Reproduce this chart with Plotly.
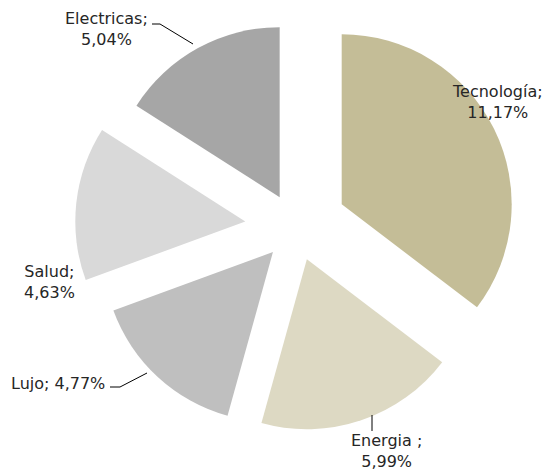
import plotly.graph_objects as go

labels = ["Tecnología", "Energia ", "Lujo", "Salud", "Electricas"]
values = [11.17, 5.99, 4.77, 4.63, 5.04]
colors = ["#C4BD97", "#DDD9C3", "#BFBFBF", "#D9D9D9", "#A6A6A6"]
pulls = [0.3, 0.2, 0.2, 0.3, 0.2]

W, H = 552, 473
cx, cy, half = 296, 227, 221

fig = go.Figure(go.Pie(
    labels=labels, values=values, sort=False, direction="clockwise", rotation=0,
    marker=dict(colors=colors, line=dict(width=0)), pull=pulls,
    textinfo="none", hoverinfo="label+value", showlegend=False,
    domain=dict(x=[max(0, (cx - half) / W), min(1, (cx + half) / W)],
                y=[max(0, (H - cy - half) / H), min(1, (H - cy + half) / H)]),
))

def fmt(v):
    return f"{v:.2f}".replace(".", ",") + "%"

font = dict(family="DejaVu Sans", size=16, color="#262626")
# label placements (paper px): (label index, x, y, text)
placements = [
    (0, 497, 102, f"{labels[0]};<br>{fmt(values[0])}"),
    (1, 386, 451, f"{labels[1]};<br>{fmt(values[1])}"),
    (2, 58, 383, f"{labels[2]}; {fmt(values[2])}"),
    (3, 49, 282, f"{labels[3]};<br>{fmt(values[3])}"),
    (4, 106, 29, f"{labels[4]};<br>{fmt(values[4])}"),
]
for i, x, y, t in placements:
    fig.add_annotation(x=x / W, y=1 - y / H, xref="paper", yref="paper", text=t,
                       showarrow=False, font=font, align="center",
                       xanchor="center", yanchor="middle")

def px_path(pts):
    return "M " + " L ".join(f"{x / W},{1 - y / H}" for x, y in pts)

leaders = [
    [(152, 24), (160, 24), (193, 44)],
    [(372, 415), (372, 431)],
    [(110, 387), (120, 387), (147, 373)],
]
for pts in leaders:
    fig.add_shape(type="path", xref="paper", yref="paper", path=px_path(pts),
                  line=dict(color="#000000", width=1))

fig.update_layout(width=W, height=H, margin=dict(l=0, r=0, t=0, b=0),
                  paper_bgcolor="white", plot_bgcolor="white")
fig.write_html("out.html", config={"displayModeBar": False},
               post_script="document.body.style.margin='0';")
